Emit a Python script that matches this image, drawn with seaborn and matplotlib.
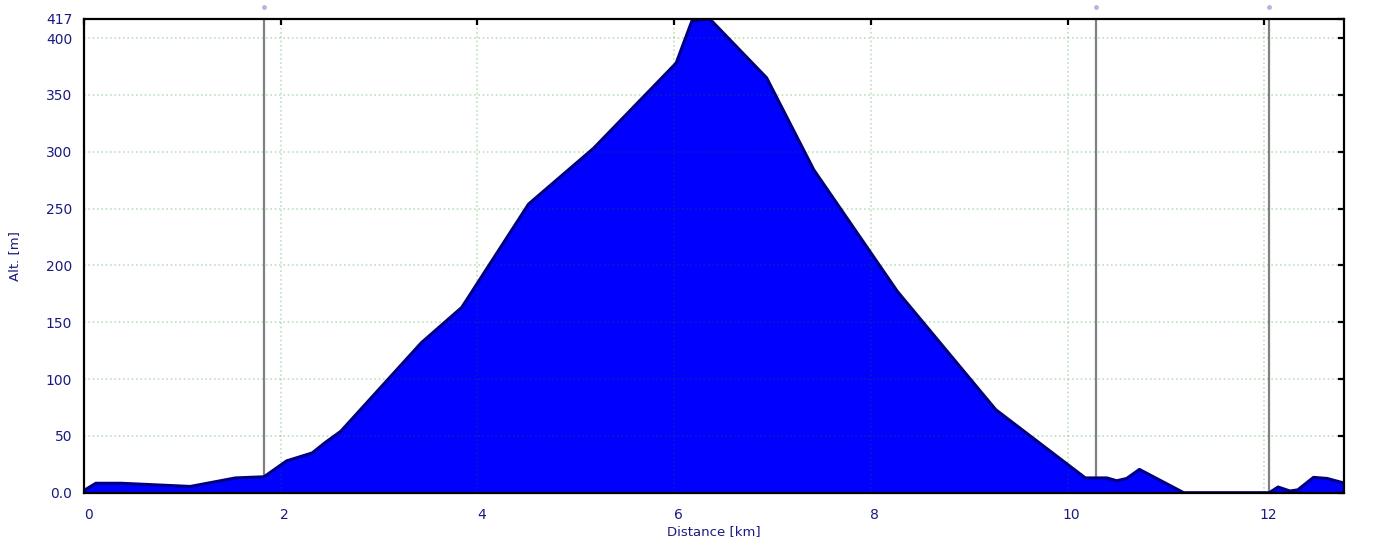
import numpy as np
import pandas as pd
import seaborn as sns
import matplotlib.pyplot as plt
import matplotlib.transforms as mtransforms

# elevation profile
dist_km = [0.0, 0.12, 0.38, 1.08, 1.54, 1.83, 2.06, 2.32, 2.45, 2.61, 3.43, 3.84,
           4.52, 5.18, 6.02, 6.18, 6.36, 6.94, 7.42, 8.27, 9.27, 10.18, 10.40,
           10.50, 10.60, 10.73, 11.18, 12.05, 12.14, 12.26, 12.34, 12.50, 12.64, 12.81]
alt_m = [2, 8.3, 8.3, 5.5, 13, 14, 28, 35, 44, 54, 132, 163,
         254, 303, 378, 415, 417, 365, 284, 177, 73, 13, 13,
         10.5, 12.5, 20.5, 0, 0, 5, 1.5, 2.5, 13.5, 12.5, 8.5]
marker_km = [1.83, 10.29, 12.05]

y_ticks = [0, 50, 100, 150, 200, 250, 300, 350, 400, 417]
y_tick_labels = ['0.0', '50', '100', '150', '200', '250', '300', '350', '400', '417']
x_ticks = [0, 2, 4, 6, 8, 10, 12]

navy = '#1a1a80'
df = pd.DataFrame({'dist': dist_km, 'alt': alt_m})

sns.set_theme(style='white')
plt.rcParams['font.family'] = ['DejaVu Sans']

fig = plt.figure(figsize=(13.82, 5.51), dpi=100)
ax = fig.add_axes([0.0608, 0.1058, 0.9117, 0.8602])

# waypoint markers (behind the profile)
for m in marker_km:
    ax.axvline(m, color='#808080', lw=1.6, zorder=1)
ax.scatter(marker_km, [427] * len(marker_km), s=12, color='#b4b4de',
           clip_on=False, zorder=5, linewidths=0)

ax.fill_between(df['dist'], df['alt'], 0, color='#0000ff', lw=0, zorder=2)
sns.lineplot(data=df, x='dist', y='alt', ax=ax, color='#000080', lw=2.2,
             sort=False, zorder=3)

ax.set_xlim(0, 12.81)
ax.set_ylim(0, 417)
ax.set_xticks(x_ticks)
ax.set_xticklabels([str(t) for t in x_ticks])
ax.set_yticks(y_ticks)
ax.set_yticklabels(y_tick_labels)

ax.grid(True, color='#008000', alpha=0.25, lw=1.2, linestyle=(0, (1, 1.6)), zorder=4)
ax.set_axisbelow(False)

for s in ax.spines.values():
    s.set_color('black')
    s.set_linewidth(1.6)
    s.set_zorder(6)

ax.tick_params(axis='both', direction='in', length=4.5, width=1.6, color='black',
               top=True, right=True, labelcolor=navy, labelsize=10)
ax.tick_params(axis='x', pad=11)
ax.tick_params(axis='y', pad=8.5)

# x labels sit a few pixels right of their ticks in the original
shift = mtransforms.ScaledTranslation(0.04, 0, fig.dpi_scale_trans)
for lab in ax.get_xticklabels():
    lab.set_transform(lab.get_transform() + shift)

ax.set_xlabel('Distance [km]', color=navy, fontsize=9.5, labelpad=2)
ax.set_ylabel('Alt. [m]', color=navy, fontsize=9.5, labelpad=18)

fig.savefig('out.png', dpi=100)
